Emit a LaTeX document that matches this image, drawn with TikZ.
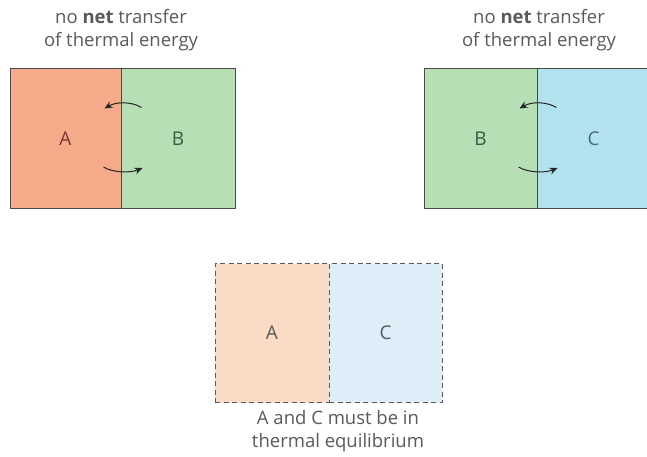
\documentclass[tikz,border=0pt]{standalone}
\usepackage{fontspec}
\setmainfont{Open Sans}
\usetikzlibrary{arrows.meta,calc}

\definecolor{salmon}{HTML}{F5AA8A}
\definecolor{mint}{HTML}{B6DFB6}
\definecolor{sky}{HTML}{B2E2EE}
\definecolor{paleSalmon}{HTML}{FADCC6}
\definecolor{paleSky}{HTML}{DDEEF8}
\definecolor{edge}{HTML}{4A4A4A}
\definecolor{caption}{HTML}{5A5A5A}
\definecolor{inkA}{HTML}{7A3A30}
\definecolor{inkB}{HTML}{3D5A45}
\definecolor{inkC}{HTML}{4A6A7E}

\tikzset{
  x=1pt, y=-1pt,
  half/.style={rectangle, inner sep=0pt, minimum height=139pt,
    font=\fontsize{19}{21}\selectfont},
  solidhalf/.style={half, draw=edge, line width=1pt},
  dashhalf/.style={half, draw=caption, line width=1pt,
    dash pattern=on 5pt off 3.5pt, text=caption},
  capt/.style={align=center, text=caption,
    font=\fontsize{18.5}{22.5}\selectfont},
  flow/.style={draw=black!85, line width=1pt,
    -{Stealth[length=8pt,width=7pt]}},
}

\begin{document}
\begin{tikzpicture}
\clip (0,0) rectangle (647,457);
\fill[white] (0,0) rectangle (647,457);

% left pair: A and B in contact
\node[solidhalf, fill=salmon, text=inkA, minimum width=111pt] (a1) at (65.5,138.5) {A};
\node[solidhalf, fill=mint, text=inkB, minimum width=114pt] (b1) at (178,138.5) {B};
\node[capt] (t1) at (121,30) {no \textbf{net} transfer\\of thermal energy};

% right pair: B and C in contact
\node[solidhalf, fill=mint, text=inkB, minimum width=113pt] (b2) at (480.5,138.5) {B};
\node[solidhalf, fill=sky, text=inkC, minimum width=113pt] (c2) at (593.5,138.5) {C};
\node[capt] (t2) at (539,30) {no \textbf{net} transfer\\of thermal energy};

% bottom pair: A and C
\node[dashhalf, fill=paleSalmon, minimum width=114pt] (a3) at (272,333) {A};
\node[dashhalf, fill=paleSky, minimum width=113pt] (c3) at (385.5,333) {C};
\node[capt] (t3) at (338,431) {A and C must be in\\thermal equilibrium};

% exchange arrows across the left interface
\coordinate (l1s) at ($(b1.west)+(21,-31)$);
\coordinate (l1e) at ($(a1.east)+(-17,-30)$);
\coordinate (l2s) at ($(a1.east)+(-18,28.5)$);
\coordinate (l2e) at ($(b1.west)+(22,29.5)$);
\draw[flow] (l1s) .. controls ($(l1s)+(-10,-6)$) and ($(l1e)+(12,-7)$) .. (l1e);
\draw[flow] (l2s) .. controls ($(l2s)+(10,6)$) and ($(l2e)+(-12,5)$) .. (l2e);

% exchange arrows across the right interface
\coordinate (r1s) at ($(c2.west)+(20,-31)$);
\coordinate (r1e) at ($(b2.east)+(-18,-30)$);
\coordinate (r2s) at ($(b2.east)+(-19,28.5)$);
\coordinate (r2e) at ($(c2.west)+(21,29.5)$);
\draw[flow] (r1s) .. controls ($(r1s)+(-10,-6)$) and ($(r1e)+(12,-7)$) .. (r1e);
\draw[flow] (r2s) .. controls ($(r2s)+(10,6)$) and ($(r2e)+(-12,5)$) .. (r2e);
\end{tikzpicture}
\end{document}
